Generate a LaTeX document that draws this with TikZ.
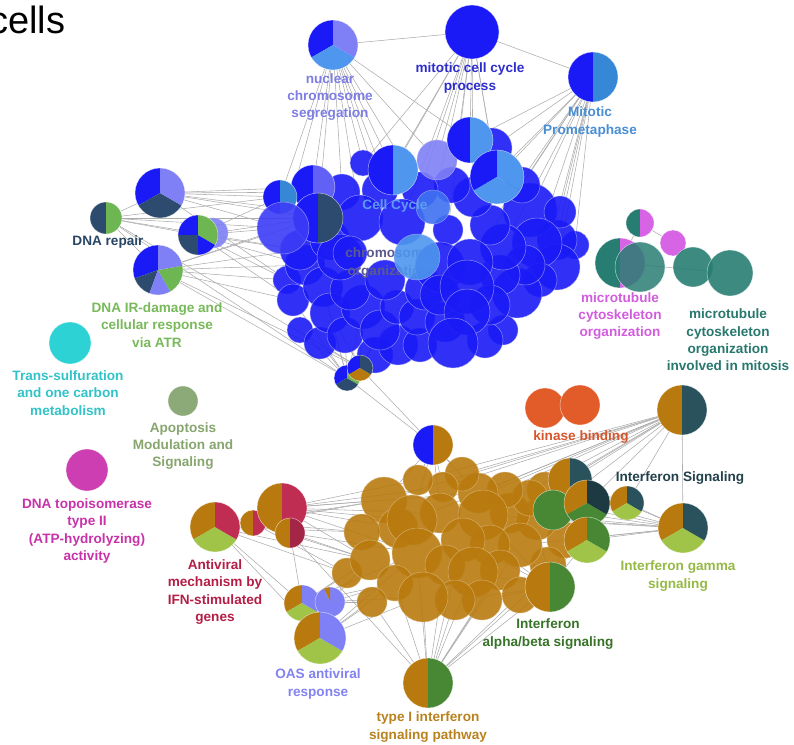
\documentclass[tikz,border=0pt]{standalone}
\usepackage{fontspec}
\setmainfont{Liberation Sans}
\setsansfont{Liberation Sans}
\pgfdeclarelayer{bg}
\pgfsetlayers{bg,main}
% node colours
\definecolor{cblue}{RGB}{26,26,246}
\definecolor{clav}{RGB}{128,128,246}
\definecolor{clight}{RGB}{78,150,238}
\definecolor{csteel}{RGB}{55,135,215}
\definecolor{cslate}{RGB}{45,75,110}
\definecolor{cgreen}{RGB}{110,182,82}
\definecolor{ccyan}{RGB}{45,210,212}
\definecolor{capop}{RGB}{140,170,120}
\definecolor{cmag}{RGB}{205,62,178}
\definecolor{cteal}{RGB}{40,125,115}
\definecolor{cviolet}{RGB}{215,100,228}
\definecolor{corange}{RGB}{226,92,42}
\definecolor{cbrown}{RGB}{184,122,14}
\definecolor{cifs}{RGB}{42,82,92}
\definecolor{cyg}{RGB}{160,196,72}
\definecolor{cdg}{RGB}{72,135,52}
\definecolor{ccrim}{RGB}{192,45,82}
% label colours
\definecolor{tnuc}{RGB}{125,125,228}
\definecolor{tmit}{RGB}{45,45,205}
\definecolor{tprom}{RGB}{72,142,212}
\definecolor{tcc}{RGB}{100,165,238}
\definecolor{tchr}{RGB}{90,90,140}
\definecolor{tdr}{RGB}{40,70,100}
\definecolor{tir}{RGB}{120,185,90}
\definecolor{tts}{RGB}{50,195,200}
\definecolor{tap}{RGB}{135,165,110}
\definecolor{ttp}{RGB}{200,50,168}
\definecolor{tmv}{RGB}{210,92,222}
\definecolor{tmt}{RGB}{40,120,110}
\definecolor{tkb}{RGB}{215,85,45}
\definecolor{tis}{RGB}{35,65,75}
\definecolor{tig}{RGB}{150,185,70}
\definecolor{tab}{RGB}{55,115,40}
\definecolor{tt1}{RGB}{185,130,30}
\definecolor{toas}{RGB}{130,130,240}
\definecolor{tav}{RGB}{180,30,70}
% one wedge of a pie, drawn around (0,0) and clipped by the node
\newcommand{\pieslice}[3]{\fill[#1] (0,0) -- (#2:80pt) -- ({(#2+#3)/2}:80pt) -- (#3:80pt) -- cycle;}
\newcommand{\halves}[2]{\pieslice{#1}{90}{270}\pieslice{#2}{-90}{90}}
\newcommand{\thirds}[3]{\pieslice{#1}{90}{210}\pieslice{#2}{210}{330}\pieslice{#3}{330}{450}}
\begin{document}
\begin{tikzpicture}[x=1pt,y=1pt,
  bn/.style={circle, inner sep=0pt, minimum size=#1, fill=cblue, fill opacity=0.9,
    draw=clav!60!white, draw opacity=0.7, line width=0.5pt},
  cn/.style={circle, inner sep=0pt, minimum size=#1, fill=cbrown, fill opacity=0.9,
    draw=cbrown!55!white, draw opacity=0.8, line width=0.5pt},
  sn/.style={circle, inner sep=0pt, minimum size=#1, draw=white, draw opacity=0.6, line width=0.5pt},
  pn/.style={circle, inner sep=0pt, minimum size=#1, draw=white, draw opacity=0.6, line width=0.5pt},
  pie/.style={path picture={\begin{scope}[shift={(path picture bounding box.center)}]#1\end{scope}}},
  lnk/.style={draw=gray!65, line width=0.55pt},
  lbl/.style={font=\bfseries\fontsize{13.6}{17.3}\selectfont, align=center, inner sep=0pt},
]
\useasboundingbox (0,0) rectangle (794,-744);

\node[anchor=base west, inner sep=0pt, font=\fontsize{38}{40}\selectfont] (ttl) at (-11,-33) {cells};

% ---------- top terms ----------
\node[pn=50pt, pie={\thirds{cblue}{clight}{clav}}] (nuc) at (333,-45) {};
\node[pn=54pt, fill=cblue] (mit) at (472,-32) {};
\node[pn=50pt, pie={\halves{cblue}{csteel}}] (prom) at (593,-77) {};

% ---------- cell cycle cluster ----------
\foreach \n/\x/\y/\r in {b47/575/245/14, b17/557/240/20, b19/557/267/23, b16/530/210/27,
  b56/560/212/16, b57/522/185/18, b18/537/243/25, b55/540/280/17, b24/517/293/25,
  b58/525/265/20, b59/500/275/20, b20/503/247/23, b60/490/225/20, b37/503/330/15,
  b54/485/340/18, b45/490/305/20, b15/473/197/20, b61/452/185/18, b2/492/148/20,
  b41/420/190/18, b40/380/190/18, b62/342/192/18, b6/363/163/13, b34/287/280/14,
  b33/293/300/16, b50/300/330/13, b36/320/343/16, b63/305/265/20, b42/300/250/20,
  b64/330/240/20, b32/323/287/20, b35/330/313/20, b51/345/335/18, b65/375/355/18,
  b66/398/345/20, b30/363/307/22, b67/350/290/20, b52/380/330/20, b29/397/307/17,
  b53/420/345/17, b28/417/317/18, b68/425/290/20, b69/445/322/20, b11/360/218/23,
  b12/402/222/23, b31/340/257/23, b38/350/253/17, b43/385/280/20}
  \node[bn={2*\r pt}] (\n) at (\x,-\y) {};

\node[bn=40pt, fill=clav] (b4) at (437,-160) {};
\node[pn=46pt, pie={\halves{cblue}{clight}}] (b1) at (470,-140) {};
\node[pn=54pt, pie={\thirds{cblue}{clight}{clight}}] (b5) at (497,-177) {};
\node[pn=50pt, pie={\halves{cblue}{clight}}] (b3) at (393,-170) {};
\node[pn=44pt, pie={\halves{cblue}{clav!70!cblue}}] (b7) at (313,-187) {};
\node[pn=34pt, pie={\halves{cblue}{csteel}}] (b8) at (280,-197) {};
\node[pn=50pt, pie={\halves{cblue}{cslate}}] (b10) at (318,-218) {};
\node[bn=52pt, fill=cblue!85!white] (b9) at (283,-228) {};

\node[lbl, text=tchr] (lchr) at (388,-263) {chromosome\\organization};

\foreach \n/\x/\y/\r in {b14/448/230/15, b22/440/267/25, b21/470/262/23, b44/440/295/20,
  b25/467/287/27, b26/467/312/23, b27/453/343/25}
  \node[bn={2*\r pt}] (\n) at (\x,-\y) {};
\node[bn=46pt, fill=clight] (b23) at (417,-257) {};
\node[bn=34pt, fill=clight!70!cblue] (b13) at (433,-207) {};

\node[lbl, text=tcc, opacity=0.9] (lcc) at (395,-206) {Cell Cycle};

% ---------- DNA repair group ----------
\node[pn=32pt, pie={\halves{cslate}{cgreen}}] (dr) at (106,-218) {};
\node[pn=50pt, pie={\thirds{cblue}{cslate}{clav}}] (l1) at (160,-193) {};
\node[bn=30pt, fill=clav] (l2b) at (213,-233) {};
\node[pn=40pt, pie={\pieslice{cblue}{90}{180}\pieslice{cslate}{180}{270}\pieslice{cblue}{270}{330}\pieslice{cgreen}{330}{450}}] (l2) at (198,-235) {};
\node[pn=50pt, pie={\pieslice{cblue}{90}{200}\pieslice{cslate}{200}{250}\pieslice{clav}{250}{300}\pieslice{cgreen}{300}{370}\pieslice{clav}{370}{450}}] (l3) at (158,-270) {};

% ---------- bridge terms ----------
\node[pn=26pt, pie={\thirds{cblue}{cslate}{cgreen}}] (p1) at (347,-378) {};
\node[pn=26pt, pie={\thirds{cblue}{cbrown}{cslate}}] (p2) at (360,-368) {};
\node[pn=40pt, pie={\halves{cblue}{cbrown}}] (p3) at (433,-445) {};

% ---------- single terms ----------
\node[sn=42pt, fill=ccyan] (ts) at (70,-343) {};
\node[sn=30pt, fill=capop] (ap) at (183,-401) {};
\node[sn=42pt, fill=cmag] (tp) at (87,-470) {};
\node[sn=40pt, fill=corange] (k1) at (545,-408) {};
\node[sn=40pt, fill=corange] (k2) at (580,-405) {};

% ---------- microtubule group ----------
\node[pn=28pt, pie={\halves{cteal}{cviolet}}] (m1) at (640,-223) {};
\node[sn=26pt, fill=cviolet] (m2) at (673,-243) {};
\node[pn=50pt, pie={\halves{cteal}{cviolet}}] (m3) at (620,-263) {};
\node[sn=50pt, fill=cteal, fill opacity=0.85] (m4) at (640,-267) {};
\node[sn=40pt, fill=cteal, fill opacity=0.9] (m5) at (693,-267) {};
\node[sn=46pt, fill=cteal, fill opacity=0.9] (m6) at (730,-273) {};

% ---------- interferon cluster ----------
\foreach \n/\x/\y/\r in {c19/545/490/18, c22/565/540/18, c23/548/565/18, c7/537/520/20,
  c6/510/513/20, c24/530/498/18, c25/505/490/18, c4/478/493/20, c26/462/474/17,
  c3/443/487/15, c27/418/480/15, c1/384/500/23, c28/398/528/20, c16/440/513/20,
  c5/483/515/25, c2/412/520/25, c29/362/532/18, c17/520/545/22, c30/490/545/20,
  c9/347/573/15, c8/370/560/20, c11/463/540/22, c10/417/553/25, c31/445/565/20,
  c13/500/570/20, c12/473/572/25, c32/520/595/18, c33/482/600/20, c20/395/583/18,
  c18/455/600/20, c15/372/602/15, c14/423/597/25}
  \node[cn={2*\r pt}] (\n) at (\x,-\y) {};

\node[pn=44pt, pie={\halves{cbrown}{cifs}}] (q1) at (570,-480) {};
\node[sn=40pt, fill=cdg] (q5) at (553,-510) {};
\node[pn=46pt, pie={\thirds{cbrown}{cdg}{cifs!70!black}}] (q2) at (587,-503) {};
\node[pn=34pt, pie={\thirds{cbrown}{cyg}{cifs}}] (q3) at (627,-503) {};
\node[pn=46pt, pie={\thirds{cbrown}{cyg}{cdg}}] (q4) at (587,-540) {};

\node[pn=50pt, pie={\halves{cbrown}{cifs}}] (is1) at (682,-410) {};
\node[pn=50pt, pie={\thirds{cbrown}{cyg}{cifs}}] (ig) at (683,-528) {};
\node[pn=50pt, pie={\halves{cbrown}{cdg}}] (ab) at (550,-587) {};
\node[pn=50pt, pie={\halves{cbrown}{cdg}}] (t1) at (428,-683) {};

\node[pn=50pt, pie={\thirds{cbrown}{cyg}{ccrim}}] (a1) at (215,-527) {};
\node[pn=26pt, pie={\halves{cbrown}{ccrim}}] (a2) at (253,-523) {};
\node[pn=50pt, pie={\halves{cbrown}{ccrim}}] (a3) at (282,-508) {};
\node[pn=30pt, pie={\halves{cbrown}{ccrim!85!black}}] (a4) at (290,-533) {};

\node[pn=36pt, pie={\thirds{cbrown}{cyg}{clav}}] (o1) at (302,-603) {};
\node[pn=30pt, pie={\pieslice{clav}{-90}{90}\pieslice{cbrown}{90}{115}\pieslice{clav}{115}{270}}] (o2) at (330,-602) {};
\node[pn=52pt, pie={\thirds{cbrown}{cyg}{clav}}] (o3) at (320,-638) {};

% ---------- labels ----------
\node[lbl, text=tnuc] (lnuc) at (330,-97) {nuclear\\chromosome\\segregation};
\node[lbl, text=tmit] (lmit) at (470,-78) {mitotic cell cycle\\process};
\node[lbl, text=tprom] (lprom) at (590,-122) {Mitotic\\Prometaphase};
\node[lbl, text=tdr] (ldr) at (108,-242) {DNA repair};
\node[lbl, text=tir] (lir) at (157,-325) {DNA IR-damage and\\cellular response\\via ATR};
\node[lbl, text=tts] (lts) at (68,-393) {Trans-sulfuration\\and one carbon\\metabolism};
\node[lbl, text=tap] (lap) at (183,-446) {Apoptosis\\Modulation and\\Signaling};
\node[lbl, text=ttp] (ltp) at (87,-531) {DNA topoisomerase\\type II\\(ATP-hydrolyzing)\\activity};
\node[lbl, text=tmv] (lmv) at (620,-316) {microtubule\\cytoskeleton\\organization};
\node[lbl, text=tmt] (lmt) at (728,-340) {microtubule\\cytoskeleton\\organization\\involved in mitosis};
\node[lbl, text=tkb] (lkb) at (581,-437) {kinase binding};
\node[lbl, text=tis] (lis) at (680,-478) {Interferon Signaling};
\node[lbl, text=tig] (lig) at (678,-576) {Interferon gamma\\signaling};
\node[lbl, text=tab] (lab) at (548,-634) {Interferon\\alpha/beta signaling};
\node[lbl, text=tt1] (lt1) at (428,-727) {type I interferon\\signaling pathway};
\node[lbl, text=toas] (loas) at (318,-684) {OAS antiviral\\response};
\node[lbl, text=tav] (lav) at (215,-592) {Antiviral\\mechanism by\\IFN-stimulated\\genes};

% ---------- connectors ----------
\begin{pgfonlayer}{bg}
\foreach \s/\ts in {
  nuc/{mit,b3,b6,b7,b8,b11,b4,b12,b40,b10,b1,b9,b41,b62},
  mit/{prom,b1,b2,b3,b4,b5,b6,b12,b13,b15,b41,b40,b14,b61},
  prom/{b1,b2,b5,b15,b16,b17,b18,b47,b19,b20,b21,b55,b56,b57,b60},
  l1/{b8,b9,b10,b7,b34,b11,dr,b62},
  l2/{b9,b10,b34,b42,b33,b8,b63},
  l3/{b9,b42,b33,b34,p1,p2,b10,b63},
  dr/{b9,b8,b42,p1,p2,l2,b10,l3},
  p1/{b36,b33,b35,b30,b50,b51,b32,p3},
  p2/{b36,b35,b30,b51,b52,b29,p3,b65},
  p3/{c1,c2,c3,c16,c4,c26,c27},
  is1/{c1,c3,c4,c16,c19,q1,q2,q3,c2,c5,c6,c7,ig,c25,c26,c27},
  ig/{q1,q2,q3,q4,c7,c17,q5,c22,c5,c6,c24},
  a1/{c1,c8,c9,a3,o1,o3,c29},
  a3/{c1,c2,c16,c8,c10,c3,c4,c28,c27},
  a2/{c8,c9,c1,c29},
  a4/{o1,c10,c8,t1},
  t1/{c14,c12,c18,c13,c10,c11,c17,c20,q4,ab,c15,c33,c32,c31},
  o1/{c15,c9,c14,c20,c10,c8},
  o3/{c15,c9,c14,c20,c10},
  o2/{c15,c20,c8},
  ab/{c12,c13,c17,c7,c11,c18,q4,c22,c5,c30,c33},
  m1/{m2,m3}, m3/{m6}}
  \foreach \t in \ts \draw[lnk] (\s) -- (\t);
\end{pgfonlayer}
\end{tikzpicture}
\end{document}
